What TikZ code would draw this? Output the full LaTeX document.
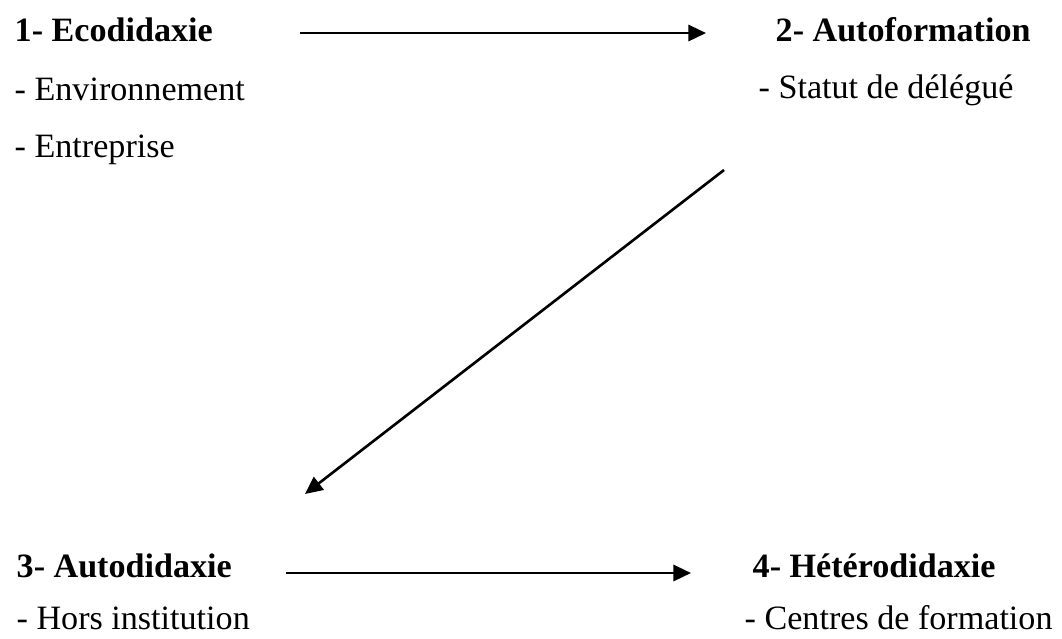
\documentclass[tikz,border=0pt]{standalone}
\usepackage{fontspec}
\setmainfont{Liberation Serif}
\usetikzlibrary{arrows.meta}

\begin{document}
\begin{tikzpicture}[x=0.01cm, y=-0.01cm,
        every node/.style={inner sep=0pt, anchor=base west, font=\fontsize{9.7pt}{11pt}\selectfont},
        title/.style={font=\fontsize{9.7pt}{11pt}\selectfont\bfseries},
        link/.style={line width=0.75pt, -{Triangle[length=5pt,width=4.6pt]}}]
    \useasboundingbox (0,0) rectangle (1062,638);

    % Titles
    \node[title] (eco)  at (14,41)  {1- Ecodidaxie};
    \node[title] (aut)  at (775,41) {2- Autoformation};
    \node[title] (did)  at (16,577) {3- Autodidaxie};
    \node[title] (het)  at (752,577) {4- Hétérodidaxie};

    % Items
    \node (env)  at (14,100)  {- Environnement};
    \node (ent)  at (14,157)  {- Entreprise};
    \node (stat) at (758,98)  {- Statut de délégué};
    \node (hors) at (16,629)  {- Hors institution};
    \node (cent) at (744,629) {- Centres de formation};

    % Arrow ends
    \coordinate (ecoR) at (300,33);
    \coordinate (autL) at (706,33);
    \coordinate (autB) at (724,170);
    \coordinate (didT) at (305,494);
    \coordinate (didR) at (286,573);
    \coordinate (hetL) at (691,573);

    % Connect the stages
    \draw[link] (ecoR) -- (autL);
    \draw[link] (autB) -- (didT);
    \draw[link] (didR) -- (hetL);
\end{tikzpicture}
\end{document}
